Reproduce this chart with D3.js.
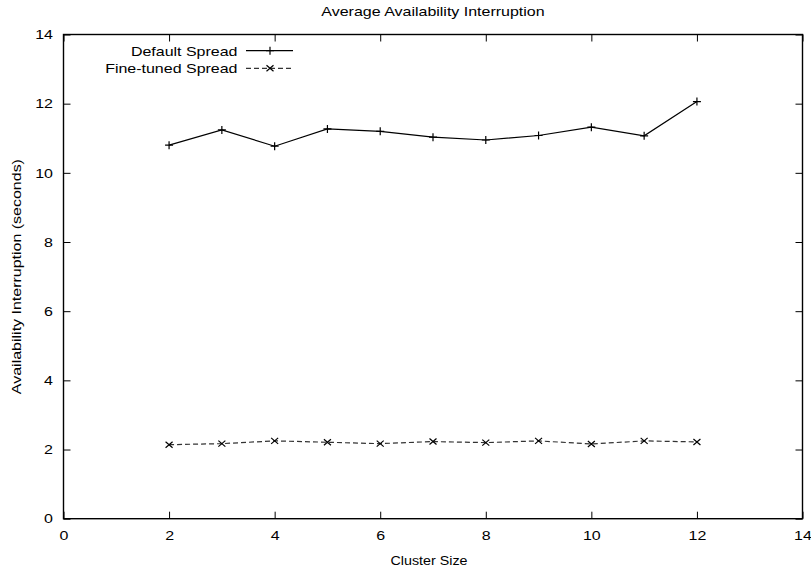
<!DOCTYPE html>
<html>
<head>
<meta charset="utf-8">
<script src="https://cdn.jsdelivr.net/npm/d3@7"></script>
<style>
  body { margin: 0; background: #fff; }
  text { font-family: "Liberation Sans", Arial, sans-serif; font-size: 13px; fill: #000; }
</style>
</head>
<body>
<svg id="chart" width="811" height="570"></svg>
<script>
var clusterSizes = [2, 3, 4, 5, 6, 7, 8, 9, 10, 11, 12];
var defaultSpread = [10.80, 11.24, 10.77, 11.27, 11.20, 11.03, 10.95, 11.08, 11.32, 11.07, 12.06];
var fineTunedSpread = [2.14, 2.17, 2.25, 2.21, 2.17, 2.23, 2.20, 2.25, 2.16, 2.25, 2.22];
var xTicks = [0, 2, 4, 6, 8, 10, 12, 14];
var yTicks = [0, 2, 4, 6, 8, 10, 12, 14];

var sx = 1.23; // gnuplot font is wider than Arial
var svg = d3.select("#chart");

var x = d3.scaleLinear().domain([0, 14]).range([63.5, 802.5]);
var y = d3.scaleLinear().domain([0, 14]).range([518.7, 34.5]);

function label(x0, y0, txt, anchor, rot, s) {
    return svg.append("text")
        .attr("transform", "translate(" + x0 + "," + y0 + ")" + (rot ? " rotate(" + rot + ")" : "") + " scale(" + (s || sx) + ",1)")
        .attr("text-anchor", anchor)
        .text(txt);
}

// axes, ticks pointing inward
var gx = svg.append("g").attr("transform", "translate(0," + y(0) + ")")
    .call(d3.axisBottom(x).tickValues(xTicks).tickSizeInner(-7).tickSizeOuter(0));
gx.selectAll("text").attr("y", 21.5).attr("dy", null).attr("transform", "scale(" + sx + ",1)");

svg.append("g").attr("transform", "translate(0," + y(14) + ")")
    .call(d3.axisTop(x).tickValues(xTicks).tickSizeInner(-7).tickSizeOuter(0).tickFormat(""));

var gy = svg.append("g").attr("transform", "translate(" + x(0) + ",0)")
    .call(d3.axisLeft(y).tickValues(yTicks).tickSizeInner(-7).tickSizeOuter(0));
gy.selectAll("text").attr("x", -10.5 / sx).attr("transform", "scale(" + sx + ",1)");

svg.append("g").attr("transform", "translate(" + x(14) + ",0)")
    .call(d3.axisRight(y).tickValues(yTicks).tickSizeInner(-7).tickSizeOuter(0).tickFormat(""));

svg.selectAll(".domain").remove();
svg.selectAll(".tick line").attr("stroke", "#000").attr("stroke-width", 1);
svg.selectAll(".tick text").style("font-size", "13px").style("font-family", "'Liberation Sans', Arial, sans-serif");

svg.append("rect")
    .attr("x", x(0)).attr("y", y(14))
    .attr("width", x(14) - x(0)).attr("height", y(0) - y(14))
    .attr("fill", "none").attr("stroke", "#000").attr("stroke-width", 1.4);

// titles
label((x(0) + x(14)) / 2, 15.5, "Average Availability Interruption", "middle");
label(429, 565, "Cluster Size", "middle", null, 1.1);
label(21, (y(0) + y(14)) / 2, "Availability Interruption (seconds)", "middle", -90);

var line = d3.line()
    .x(function (d, i) { return x(clusterSizes[i]); })
    .y(function (d) { return y(d); });

function plus(g, cx, cy) {
    g.append("path").attr("d", "M" + (cx - 4) + "," + cy + "H" + (cx + 4) + "M" + cx + "," + (cy - 4) + "V" + (cy + 4))
        .attr("stroke", "#000").attr("stroke-width", 1.2);
}
function cross(g, cx, cy) {
    g.append("path").attr("d", "M" + (cx - 3.5) + "," + (cy - 3) + "L" + (cx + 3.5) + "," + (cy + 3) +
        "M" + (cx - 3.5) + "," + (cy + 3) + "L" + (cx + 3.5) + "," + (cy - 3))
        .attr("stroke", "#000").attr("stroke-width", 1.2);
}

var g1 = svg.append("g");
g1.append("path").datum(defaultSpread).attr("d", line)
    .attr("fill", "none").attr("stroke", "#000").attr("stroke-width", 1.2);
defaultSpread.forEach(function (d, i) { plus(g1, x(clusterSizes[i]), y(d)); });

var g2 = svg.append("g");
g2.append("path").datum(fineTunedSpread).attr("d", line)
    .attr("fill", "none").attr("stroke", "#333").attr("stroke-width", 1.2)
    .attr("stroke-dasharray", "5,3");
fineTunedSpread.forEach(function (d, i) { cross(g2, x(clusterSizes[i]), y(d)); });

// legend
var lg = svg.append("g");
label(237.5, 55.5, "Default Spread", "end");
lg.append("line").attr("x1", 246).attr("x2", 293).attr("y1", 50.7).attr("y2", 50.7)
    .attr("stroke", "#000").attr("stroke-width", 1.2);
plus(lg, 270, 50.7);
label(237.5, 73, "Fine-tuned Spread", "end");
lg.append("line").attr("x1", 246).attr("x2", 293).attr("y1", 68.3).attr("y2", 68.3)
    .attr("stroke", "#333").attr("stroke-width", 1.2).attr("stroke-dasharray", "5,3");
cross(lg, 270, 68.3);
</script>
</body>
</html>
